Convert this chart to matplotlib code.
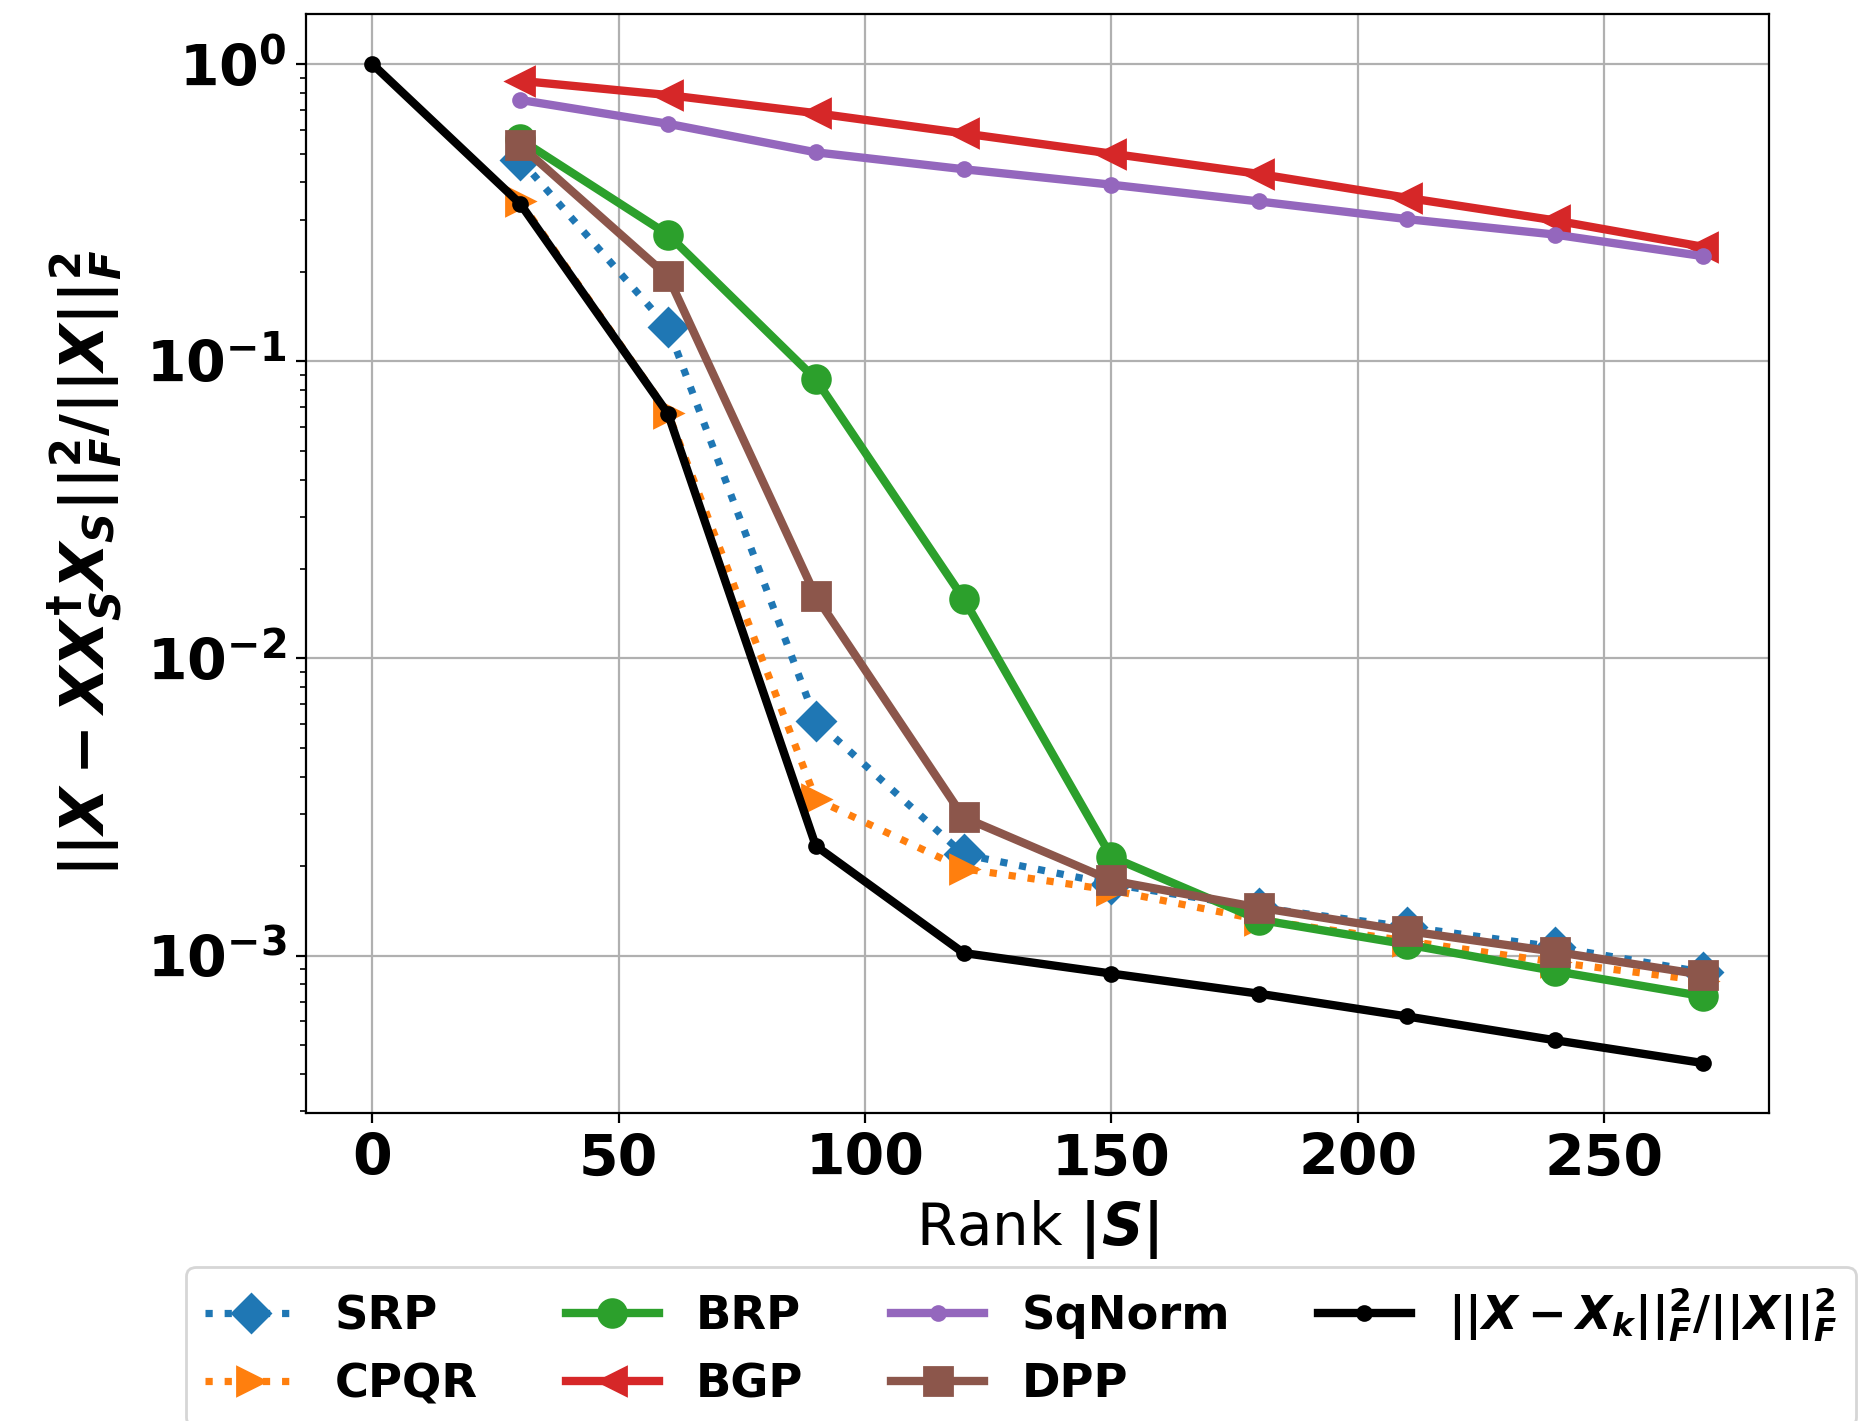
import numpy as np
import matplotlib
matplotlib.use("Agg")
import matplotlib.pyplot as plt

plt.rcParams['mathtext.fontset'] = 'custom'
plt.rcParams['mathtext.rm'] = 'DejaVu Sans:bold'
plt.rcParams['mathtext.it'] = 'DejaVu Sans:italic:bold'
plt.rcParams['mathtext.bf'] = 'DejaVu Sans:bold'

ranks = [30, 60, 90, 120, 150, 180, 210, 240, 270]
ranks_opt = [0, 30, 60, 90, 120, 150, 180, 210, 240, 270]

srp = [0.477, 0.130, 0.00618, 0.00219, 0.00174, 0.00145, 0.00125, 0.00107, 0.00088]
cpqr = [0.345, 0.0670, 0.00336, 0.00196, 0.00166, 0.00132, 0.00112, 0.00095, 0.000824]
brp = [0.558, 0.267, 0.087, 0.0159, 0.00215, 0.00132, 0.00109, 0.000887, 0.00073]
bgp = [0.879, 0.787, 0.684, 0.585, 0.500, 0.427, 0.355, 0.298, 0.243]
sqnorm = [0.758, 0.630, 0.505, 0.443, 0.393, 0.345, 0.301, 0.267, 0.226]
dpp = [0.533, 0.193, 0.0162, 0.00292, 0.00179, 0.00145, 0.00121, 0.00103, 0.000862]
optimal = [1.0, 0.339, 0.0666, 0.00234, 0.00102, 0.00087, 0.000744, 0.000624, 0.000519, 0.000435]

fig = plt.figure(figsize=(9.35, 7.105), dpi=200)
ax = fig.add_axes([0.1636, 0.2168, 0.946 - 0.1636, 0.990 - 0.2168])

ax.plot(ranks, srp, ':', color='C0', marker='D', ms=9.5, lw=2.6, label='SRP')
ax.plot(ranks, cpqr, ':', color='C1', marker='>', ms=10, lw=2.6, label='CPQR')
ax.plot(ranks, brp, '-', color='C2', marker='o', ms=10, lw=3, label='BRP')
ax.plot(ranks, bgp, '-', color='C3', marker='<', ms=10, lw=3, label='BGP')
ax.plot(ranks, sqnorm, '-', color='C4', marker='.', ms=10, lw=3, label='SqNorm')
ax.plot(ranks, dpp, '-', color='C5', marker='s', ms=10, lw=3, label='DPP')
ax.plot(ranks_opt, optimal, '-', color='k', marker='.', ms=10, lw=3,
        label=r'$||X - X_k||_F^2/||X||_F^2$')

ax.set_yscale('log')
ax.grid(True)
ax.set_xticks([0, 50, 100, 150, 200, 250])
for lab in ax.get_xticklabels() + ax.get_yticklabels():
    lab.set_fontweight('bold')
ax.tick_params(axis='both', labelsize=20.5)

ax.set_xlabel(r'Rank $|S|$', fontsize=20.8)
ax.set_ylabel(r'$||X - XX_S^{\dagger}X_S||_F^2/||X||_F^2$', fontsize=21.5, labelpad=8)

leg = fig.legend(loc='upper center', bbox_to_anchor=(0.546, 0.125), ncol=4,
                 prop={'weight': 'bold', 'size': 16.7}, handlelength=2.0,
                 columnspacing=1.9)

fig.savefig('out.png', dpi=200)
